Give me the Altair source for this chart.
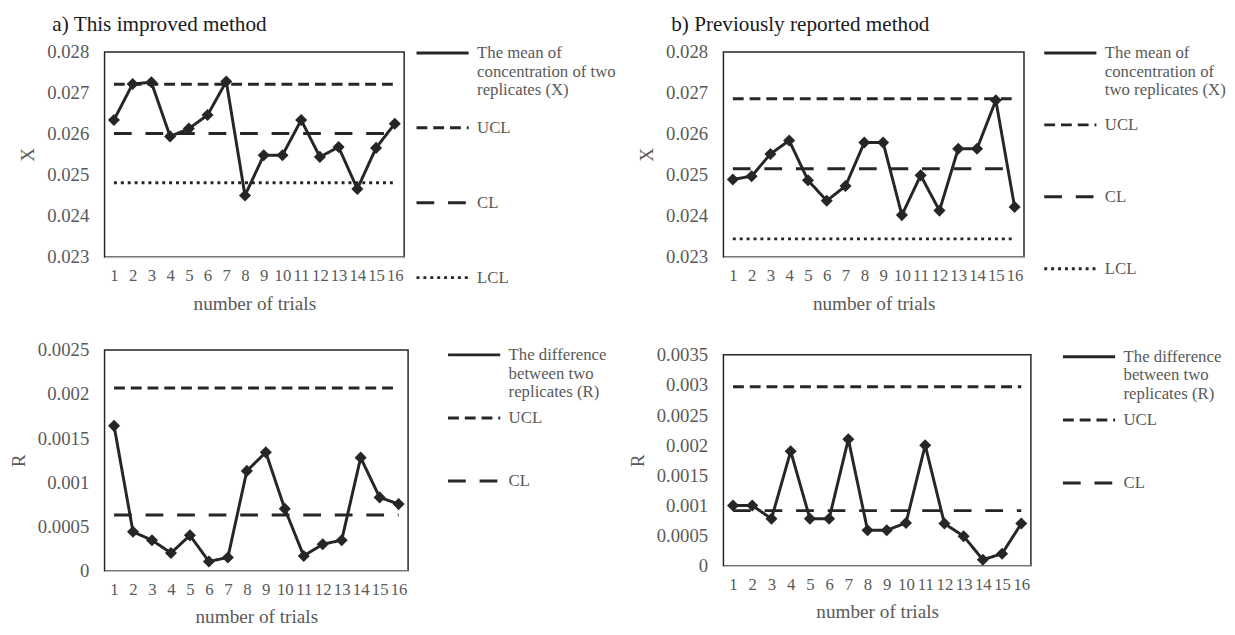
import altair as alt
import pandas as pd

FONT = "Liberation Serif"
INK = "#262626"
GRAY = "#595959"

trials = list(range(1, 17))

# a) This improved method
x_improved = [0.02634, 0.02722, 0.02726, 0.02594, 0.02613, 0.02646, 0.02728, 0.02450,
              0.02548, 0.02548, 0.02634, 0.02544, 0.02568, 0.02466, 0.02566, 0.02625]
x_improved_limits = {"UCL": 0.02721, "CL": 0.02601, "LCL": 0.02481}
r_improved = [0.00164, 0.00044, 0.000345, 0.0002, 0.0004, 0.000104, 0.00015, 0.00113,
              0.00134, 0.0007, 0.000167, 0.0003, 0.000345, 0.00128, 0.00083, 0.000754]
r_improved_limits = {"UCL": 0.00207, "CL": 0.00063}

# b) Previously reported method
x_previous = [0.02489, 0.02497, 0.02551, 0.02584, 0.02487, 0.02437, 0.02473, 0.02579,
              0.02579, 0.02402, 0.02499, 0.02413, 0.02564, 0.02564, 0.02682, 0.02422]
x_previous_limits = {"UCL": 0.02686, "CL": 0.02515, "LCL": 0.02344}
r_previous = [0.001, 0.001, 0.00078, 0.0019, 0.00078, 0.00078, 0.0021, 0.00059,
              0.00059, 0.00071, 0.002, 0.0007, 0.00049, 0.0001, 0.0002, 0.0007]
r_previous_limits = {"UCL": 0.00297, "CL": 0.000915}

x_ticks = [0.023, 0.024, 0.025, 0.026, 0.027, 0.028]
r_ticks_a = [0, 0.0005, 0.001, 0.0015, 0.002, 0.0025]
r_ticks_b = [0, 0.0005, 0.001, 0.0015, 0.002, 0.0025, 0.003, 0.0035]

main_x_a = "The mean of|concentration of two|replicates (X)"
main_x_b = "The mean of|concentration of|two replicates (X)"
main_r = "The difference|between two|replicates (R)"

DASH = {"UCL": [11, 6], "CL": [18, 14], "LCL": [3, 4]}


def panel(values, limits, main_label, ytitle, ydomain, yticks, w, h,
          legend_offset, legend_y, row_pad, title=None):
    rows = [{"trial": t, "value": v, "series": main_label} for t, v in zip(trials, values)]
    for name, lv in limits.items():
        rows += [{"trial": t, "value": lv, "series": name} for t in trials]
    df = pd.DataFrame(rows)
    domain = [main_label] + list(limits)
    dash_range = [[1, 0]] + [DASH[n] for n in limits]

    x = alt.X("trial:O", axis=alt.Axis(
        title="number of trials", labelAngle=0, labelFont=FONT, labelFontSize=17,
        labelColor=GRAY, labelPadding=11, ticks=False, domainColor="#bfbfbf",
        domainWidth=1.5, titleFont=FONT, titleFontSize=19.5, titleFontWeight="normal",
        titleColor=GRAY, titlePadding=11, grid=False))
    y = alt.Y("value:Q", scale=alt.Scale(domain=ydomain, nice=False, zero=False),
              axis=alt.Axis(title=ytitle, values=yticks, format="~g", labelFont=FONT,
                            labelFontSize=19, labelColor=GRAY, labelPadding=16,
                            ticks=False, domain=False, grid=False, titleFont=FONT,
                            titleFontSize=19.5, titleFontWeight="normal", titleColor=GRAY,
                            titlePadding=9))
    legend = alt.Legend(
        title=None, orient="none", legendX=w + legend_offset, legendY=legend_y,
        padding=0, labelExpr="split(datum.label, '|')", labelFont=FONT,
        labelFontSize=17, labelColor=GRAY, labelLimit=260, labelOffset=20,
        labelBaseline="middle", symbolType="M-2,0H2", symbolSize=700,
        symbolOffset=12, symbolStrokeWidth=3, symbolStrokeColor=INK,
        rowPadding=row_pad, gridAlign="all")
    lines = alt.Chart(df).mark_line(color=INK, strokeWidth=3).encode(
        x=x, y=y,
        strokeDash=alt.StrokeDash("series:N", sort=domain,
                                  scale=alt.Scale(domain=domain, range=dash_range),
                                  legend=legend))
    pts = alt.Chart(df).transform_filter(alt.datum.series == main_label).mark_point(
        shape="diamond", filled=True, size=150, color=INK, opacity=1).encode(x=x, y=y)
    props = dict(width=w, height=h)
    if title:
        props["title"] = alt.Title(title, anchor="start", frame="group", dx=-53, offset=3,
                                   font=FONT, fontSize=21.5, fontWeight="normal",
                                   color="#1a1a1a")
    return alt.layer(lines, pts).properties(**props)


pa = panel(x_improved, x_improved_limits, main_x_a, "X", [0.023, 0.028], x_ticks,
           304, 208, 12, -14, 15, "a) This improved method")
pb = panel(x_previous, x_previous_limits, main_x_b, "X", [0.023, 0.028], x_ticks,
           305, 208, 20, -14, 12, "b) Previously reported method")
pc = panel(r_improved, r_improved_limits, main_r, "R", [0, 0.0025], r_ticks_a,
           308, 224, 40, -10, 3)
pd_ = panel(r_previous, r_previous_limits, main_r, "R", [0, 0.0035], r_ticks_b,
            312, 214, 32, -13, 3)

top = alt.hconcat(pa, pb, spacing=19).resolve_scale(
    strokeDash="independent").resolve_legend(strokeDash="independent")
bottom = alt.hconcat(pc, pd_, spacing=19, center=True).resolve_scale(
    strokeDash="independent").resolve_legend(strokeDash="independent")
chart = alt.vconcat(top, bottom, spacing=25).resolve_scale(
    strokeDash="independent").resolve_legend(strokeDash="independent").configure(
    padding={"left": 0, "top": 0, "right": 0, "bottom": 0}, background="white",
    view=alt.ViewConfig(stroke=INK, strokeWidth=1.5))

chart.save("out.html", embed_options={"renderer": "svg", "actions": False})
